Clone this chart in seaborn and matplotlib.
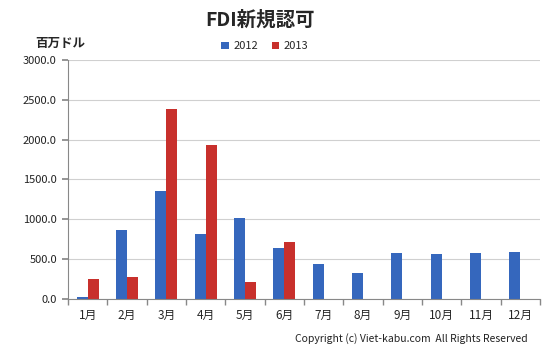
import numpy as np
import pandas as pd
import seaborn as sns
import matplotlib.pyplot as plt

months = ["1月", "2月", "3月", "4月", "5月", "6月", "7月", "8月", "9月", "10月", "11月", "12月"]
fdi_2012 = [20, 870, 1355, 815, 1015, 640, 435, 322, 573, 560, 573, 586]
fdi_2013 = [245, 276, 2385, 1930, 213, 715, np.nan, np.nan, np.nan, np.nan, np.nan, np.nan]
years = ["2012", "2013"]
yticks = [0, 500, 1000, 1500, 2000, 2500, 3000]

df = pd.DataFrame({
    "month": months * 2,
    "value": fdi_2012 + fdi_2013,
    "year": [years[0]] * 12 + [years[1]] * 12,
})

sns.set_theme(style="white")
plt.rcParams["font.family"] = ["Noto Sans CJK JP", "DejaVu Sans"]

fig = plt.figure(figsize=(5.54, 3.57), dpi=100)
ax = fig.add_axes([0.1227, 0.1625, 0.8523, 0.6695])

# bars, flat colours standing in for the excel gradient
sns.barplot(data=df, x="month", y="value", hue="year", order=months,
            palette=["#3567bd", "#c8302c"], saturation=1, width=0.56, gap=0,
            edgecolor="none", errorbar=None, legend=True, ax=ax)

ax.set_ylim(0, 3000)
ax.set_xlim(-0.5, 11.5)
ax.set_yticks(yticks)
ax.set_yticklabels([f"{v:.1f}" for v in yticks], fontsize=8, color="#222222")
ax.yaxis.grid(True, color="#d0d0d0", linewidth=0.8)
ax.set_axisbelow(True)
ax.set_xlabel("")
ax.set_ylabel("")
ax.tick_params(axis="x", length=0, labelsize=8.5, pad=7)
ax.tick_params(axis="y", length=4, color="#888888", direction="out", left=True, pad=4)
ax.set_xticks(np.arange(-0.5, 12, 1), minor=True)
ax.tick_params(axis="x", which="minor", length=4, color="#888888", direction="out", bottom=True)

for s in ["top", "right"]:
    ax.spines[s].set_visible(False)
for s in ["left", "bottom"]:
    ax.spines[s].set_color("#888888")
    ax.spines[s].set_linewidth(0.8)

leg = ax.legend(loc="center", frameon=False, ncol=2,
                fontsize=8, handlelength=0.7, handleheight=0.7, columnspacing=1.2,
                handletextpad=0.4)
leg.set_bbox_to_anchor((0.478, 0.87), transform=fig.transFigure)

fig.text(0.47, 0.945, "FDI新規認可", ha="center", va="center", fontsize=14, fontweight="bold")
fig.text(0.108, 0.877, "百万ドル", ha="center", va="center", fontsize=9, fontweight="bold")
fig.text(0.953, 0.052, "Copyright (c) Viet-kabu.com  All Rights Reserved",
         ha="right", va="center", fontsize=7.5, color="#222222")

plt.savefig("out.png", dpi=100)
